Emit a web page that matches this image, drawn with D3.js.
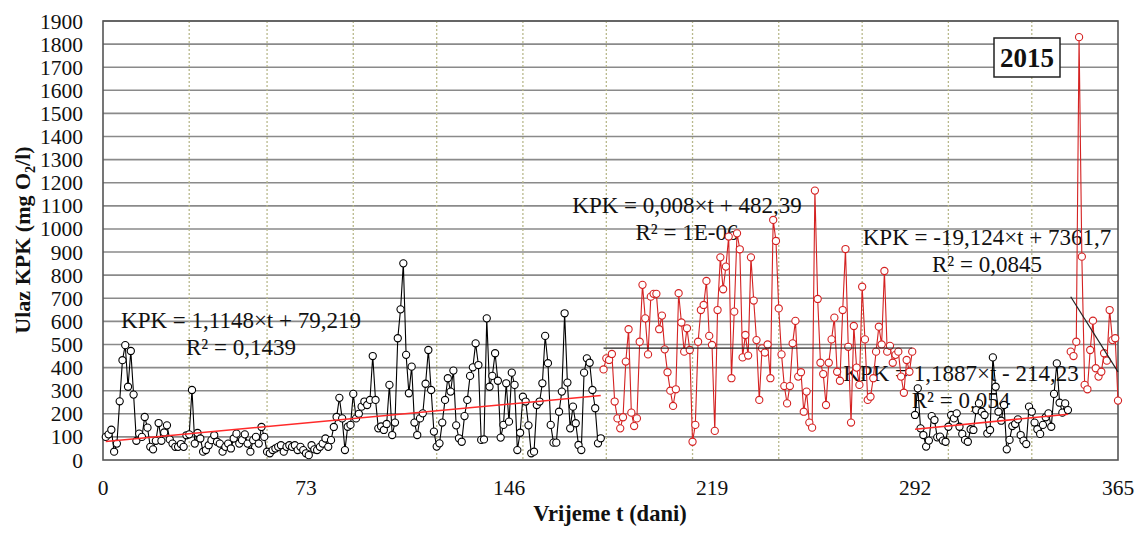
<!DOCTYPE html>
<html><head><meta charset="utf-8">
<script src="https://cdn.jsdelivr.net/npm/d3@7"></script>
<style>
body{margin:0;background:#fff}
svg{display:block}
text{font-family:"Liberation Serif","Times New Roman",serif;fill:#111}
</style>
</head><body><svg id="c" width="1145" height="537"></svg>
<script>
// Daily KPK values (mg O2/l), 2015
const black1 = [ // days 1-179
100,111,131,36,71,254,432,497,317,472,
283,83,114,100,186,140,57,46,83,160,
83,119,150,89,71,57,57,69,57,107,
111,303,71,117,93,36,43,64,86,107,
79,71,36,57,71,50,93,114,71,86,
111,71,36,86,100,71,143,
100,36,29,43,50,57,64,36,57,64,57,64,43,57,43,29,21,64,46,43,57,71,93,57,86,143,186,
269,
180,43,144,152,286,180,200,231,253,238,
260,450,260,137,145,130,156,325,108,162,
527,652,851,455,289,404,162,108,180,202,
330,476,303,123,58,72,162,260,354,296,
387,150,94,79,190,260,364,401,505,411,
87,89,613,317,364,462,343,97,152,332,
166,378,325,43,118,274,253,150,29,36,
238,253,332,537,419,152,75,75,209,296,
635,335,137,231,159,65,43,378,440,421,
303,224,72,94];
const red1 = [ // days 180-291
392,440,433,459,253,180,137,185,426,566,
205,147,180,512,758,613,457,707,719,719,
566,625,479,380,300,234,306,722,595,469,
570,476,79,152,512,649,671,775,537,498,
126,649,877,739,837,967,354,642,981,912,
444,541,452,877,690,519,260,483,465,500,
354,1039,948,656,457,320,245,320,505,602,
361,380,209,296,162,140,1166,697,421,372,
238,421,522,616,382,343,649,913,490,162,
580,400,325,750,522,260,274,354,469,577,
500,818,469,494,421,455,469,361,291,433,
382,469];
const black2 = [ // days 292-347
195,310,137,108,58,84,190,173,98,101,
84,79,144,195,180,202,144,113,87,79,
133,130,216,245,209,195,115,130,444,317,
209,170,238,46,87,147,156,176,108,84,
69,231,209,162,133,113,152,185,202,144,
286,418,248,205,245,216];
const red2 = [ // days 348-365
469,450,512,1830,880,325,306,476,603,397,361,382,462,430,649,519,527,257];

const seriesValues = [black1, red1, black2, red2];
const seriesStart = [1, 180, 292, 348];
const seriesColor = ["#000000", "#d42222", "#000000", "#d42222"];

const trendSlope = [1.1148, 0.008, 1.1887, -19.124];
const trendIntercept = [79.219, 482.39, -214.23, 7361.7];
const trendColor = ["#ff2a2a", "#222222", "#ff2a2a", "#222222"];
const trendEq = ["KPK = 1,1148×t + 79,219", "KPK = 0,008×t + 482,39", "KPK = 1,1887×t - 214,23", "KPK = -19,124×t + 7361,7"];
const trendR2 = ["R² = 0,1439", "R² = 1E-06", "R² = 0,054", "R² = 0,0845"];
const labelPos = [[241,328],[687,213],[961,381],[987,245]]; // center x, baseline y of equation line

const yTicks = d3.range(0, 2000, 100);
const xTicks = [0, 73, 146, 219, 292, 365];
const monthEnds = [31, 59, 90, 120, 151, 181, 212, 243, 273, 304, 334];

const svg = d3.select("#c");
const L = 103, R = 1118, T = 21, B = 460;
const x = d3.scaleLinear().domain([0, 365]).range([L, R]);
const y = d3.scaleLinear().domain([0, 1900]).range([B, T]);

// horizontal gridlines
svg.append("g").selectAll("line").data(yTicks.filter(d => d > 0)).join("line")
  .attr("x1", L).attr("x2", R).attr("y1", d => y(d)).attr("y2", d => y(d))
  .attr("stroke", "#8a8a8a").attr("stroke-width", 1.6);
// vertical dashed month lines
svg.append("g").selectAll("line").data(monthEnds).join("line")
  .attr("x1", d => x(d)).attr("x2", d => x(d)).attr("y1", T).attr("y2", B)
  .attr("stroke", "#b9b98c").attr("stroke-width", 1.3).attr("stroke-dasharray", "2,2");
// plot border
svg.append("rect").attr("x", L).attr("y", T).attr("width", R - L).attr("height", B - T)
  .attr("fill", "none").attr("stroke", "#555").attr("stroke-width", 1.6);

// y tick labels
svg.append("g").selectAll("text").data(yTicks).join("text")
  .attr("x", 83).attr("y", d => y(d) + 7.5).attr("text-anchor", "end")
  .attr("font-size", 21.5).text(d => d);
// x tick labels
svg.append("g").selectAll("text").data(xTicks).join("text")
  .attr("x", d => x(d)).attr("y", 495).attr("text-anchor", "middle")
  .attr("font-size", 21.5).text(d => d);

// axis titles
svg.append("text").attr("x", 610).attr("y", 521).attr("text-anchor", "middle")
  .attr("font-size", 22.5).attr("font-weight", "bold").text("Vrijeme t (dani)");
const yt = svg.append("text").attr("transform", "translate(30,240) rotate(-90)")
  .attr("text-anchor", "middle").attr("font-size", 22).attr("font-weight", "bold");
yt.append("tspan").text("Ulaz KPK (mg O");
yt.append("tspan").attr("font-size", 14).attr("dy", 5).text("2");
yt.append("tspan").attr("dy", -5).text("/l)");

// regression labels
trendEq.forEach((t, i) => {
  svg.append("text").attr("x", labelPos[i][0]).attr("y", labelPos[i][1])
    .attr("text-anchor", "middle").attr("font-size", 23).text(t);
  svg.append("text").attr("x", labelPos[i][0]).attr("y", labelPos[i][1] + 27)
    .attr("text-anchor", "middle").attr("font-size", 23).text(trendR2[i]);
});

// series
const line = d3.line().x(d => x(d[0])).y(d => y(d[1]));
seriesValues.forEach((vals, i) => {
  const pts = vals.map((v, k) => [seriesStart[i] + k, v]);
  const g = svg.append("g");
  g.append("path").datum(pts).attr("d", line).attr("fill", "none")
    .attr("stroke", seriesColor[i]).attr("stroke-width", 1.1);
  g.selectAll("circle").data(pts).join("circle")
    .attr("cx", d => x(d[0])).attr("cy", d => y(d[1])).attr("r", 3.6)
    .attr("fill", "#fff").attr("stroke", seriesColor[i]).attr("stroke-width", 1.1);
});

// trend lines
seriesValues.forEach((vals, i) => {
  const t0 = seriesStart[i], t1 = seriesStart[i] + vals.length - 1;
  const f = t => trendSlope[i] * t + trendIntercept[i];
  svg.append("line").attr("x1", x(t0)).attr("y1", y(f(t0))).attr("x2", x(t1)).attr("y2", y(f(t1)))
    .attr("stroke", trendColor[i]).attr("stroke-width", i % 2 === 0 ? 1.5 : 1.2);
});

// year box
svg.append("rect").attr("x", 994).attr("y", 38).attr("width", 66).attr("height", 39)
  .attr("fill", "#fff").attr("stroke", "#222").attr("stroke-width", 1.5);
svg.append("text").attr("x", 1027).attr("y", 67).attr("text-anchor", "middle")
  .attr("font-size", 27).attr("font-weight", "bold").text("2015");
</script>
</body></html>
